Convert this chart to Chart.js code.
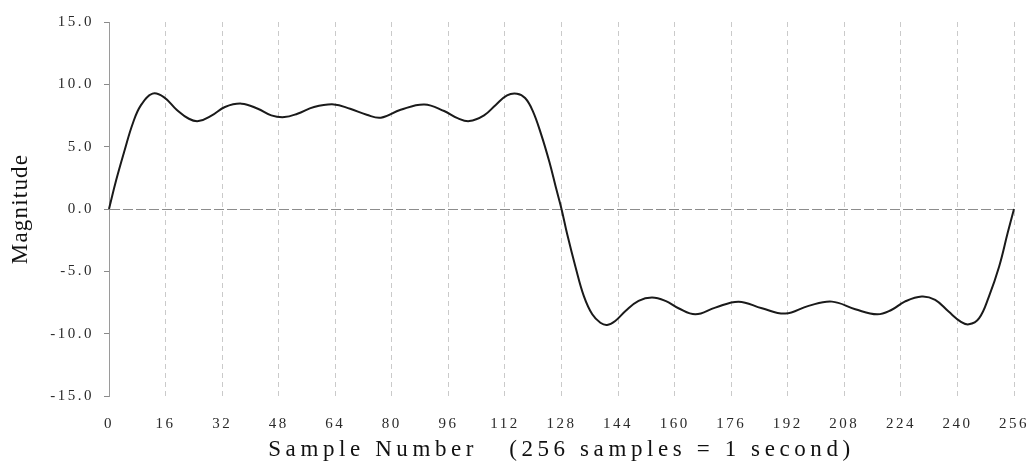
<!DOCTYPE html>
<html>
<head>
<meta charset="utf-8">
<script src="https://cdn.jsdelivr.net/npm/chart.js@4.4.1/dist/chart.umd.min.js"></script>
<style>
  html, body { margin: 0; padding: 0; background: #ffffff; }
  canvas { display: block; }
</style>
</head>
<body>
<canvas id="chart" width="1031" height="468"></canvas>
<script>
// Sample positions and their magnitudes along the curve
const sampleIndex = [
  0, 2.0, 4.4, 6.7, 9.0, 12.3, 15.5, 19.2, 22.6, 25.3, 29.1, 32.8, 37.5, 42.1,
  45.9, 49.6, 53.3, 58.0, 63.6, 68.2, 72.9, 76.9, 82.5, 89.2, 94.8, 98.6, 101.9,
  106.1, 109.4, 112.6, 115.4, 117.7, 119.8, 122.2, 124.6, 126.4, 128.0,
  129.6, 132.0, 134.3, 136.7, 139.0, 140.9, 143.2, 146.1, 149.8, 153.6, 157.4,
  161.1, 165.9, 171.5, 178.1, 184.7, 191.3, 197.9, 204.5, 211.1, 217.3, 221.3,
  225.1, 229.9, 233.7, 237.5, 240.9, 243.2, 246.1, 248.9, 251.8, 254.2, 256
];
const magnitude = [
  0, 2.28, 4.69, 6.84, 8.31, 9.25, 8.98, 7.95, 7.24, 7.05, 7.51, 8.18, 8.45, 8.04,
  7.51, 7.37, 7.64, 8.18, 8.39, 8.04, 7.56, 7.32, 7.96, 8.39, 7.86, 7.29, 7.05,
  7.51, 8.35, 9.12, 9.25, 8.90, 7.91, 6.03, 3.75, 1.74, 0,
  -2.01, -4.69, -6.97, -8.45, -9.12, -9.30, -8.98, -8.18, -7.37, -7.10, -7.37,
  -7.96, -8.45, -7.91, -7.43, -7.96, -8.39, -7.77, -7.43, -8.04, -8.45, -8.10,
  -7.43, -7.02, -7.29, -8.23, -9.03, -9.25, -8.77, -7.02, -4.61, -1.93, 0
];

// Axis tick values and titles
const xTickValues = [0, 16, 32, 48, 64, 80, 96, 112, 128, 144, 160, 176, 192, 208, 224, 240, 256];
const yTickValues = [-15, -10, -5, 0, 5, 10, 15];
const xTitle = 'Sample Number   (256 samples = 1 second)';
const yTitle = 'Magnitude';

const serif = '"Liberation Serif", "Times New Roman", Times, serif';
Chart.defaults.font.family = serif;

// Letter spacing per scale part (canvas letterSpacing)
const spacing = {
  x: { title: '4.6px', labels: '2.5px' },
  y: { title: '1.2px', labels: '2.5px' }
};

const letterSpacingPlugin = {
  id: 'letterSpacing',
  beforeDraw(chart) {
    Object.keys(spacing).forEach(id => {
      const scale = chart.scales[id];
      if (!scale || scale.__spaced) return;
      scale.__spaced = true;
      const wrap = (name, value) => {
        const orig = scale[name].bind(scale);
        scale[name] = function (...args) {
          const ctx = chart.ctx;
          const prev = ctx.letterSpacing;
          ctx.letterSpacing = value;
          orig(...args);
          ctx.letterSpacing = prev || '0px';
        };
      };
      wrap('drawTitle', spacing[id].title);
      wrap('drawLabels', spacing[id].labels);
    });
  }
};

new Chart(document.getElementById('chart'), {
  type: 'line',
  data: {
    datasets: [{
      data: sampleIndex.map((s, i) => ({ x: s, y: magnitude[i] })),
      borderColor: '#1a1a1a',
      borderWidth: 2,
      pointRadius: 0,
      fill: false,
      tension: 0.4,
      clip: false
    }]
  },
  options: {
    responsive: false,
    animation: false,
    devicePixelRatio: 1,
    layout: { padding: { left: 0, right: 17, top: 22, bottom: 0 } },
    plugins: {
      legend: { display: false },
      tooltip: { enabled: false }
    },
    scales: {
      x: {
        type: 'linear',
        min: 0,
        max: 256,
        afterBuildTicks: s => { s.ticks = xTickValues.map(v => ({ value: v })); },
        afterFit: s => { s.height = 72; s.paddingLeft = 12; s.paddingRight = 12; },
        ticks: {
          autoSkip: false,
          maxRotation: 0,
          padding: 19,
          color: '#2a2a2a',
          font: { size: 15 },
          callback: v => String(v)
        },
        grid: {
          drawTicks: false,
          color: '#cacaca',
          lineWidth: 1
        },
        border: { display: false, dash: [5, 4] },
        title: {
          display: true,
          text: xTitle,
          color: '#111111',
          font: { size: 23 },
          padding: { top: 0, bottom: 4 }
        }
      },
      y: {
        type: 'linear',
        min: -15,
        max: 15,
        afterBuildTicks: s => { s.ticks = yTickValues.map(v => ({ value: v })); },
        afterFit: s => { s.width = 109; },
        ticks: {
          padding: 10,
          color: '#2a2a2a',
          font: { size: 15 },
          callback: v => Number(v).toFixed(1)
        },
        grid: {
          drawTicks: true,
          tickLength: 5,
          tickColor: '#8a8a8a',
          lineWidth: 1,
          color: ctx => (ctx.tick && ctx.tick.value === 0) ? '#8c8c8c' : 'rgba(0,0,0,0)'
        },
        border: { display: true, color: '#9a9a9a', width: 1, dash: [10, 3] },
        title: {
          display: true,
          text: yTitle,
          color: '#111111',
          font: { size: 23 },
          padding: { top: 7, bottom: 0 }
        }
      }
    }
  },
  plugins: [letterSpacingPlugin]
});
</script>
</body>
</html>
